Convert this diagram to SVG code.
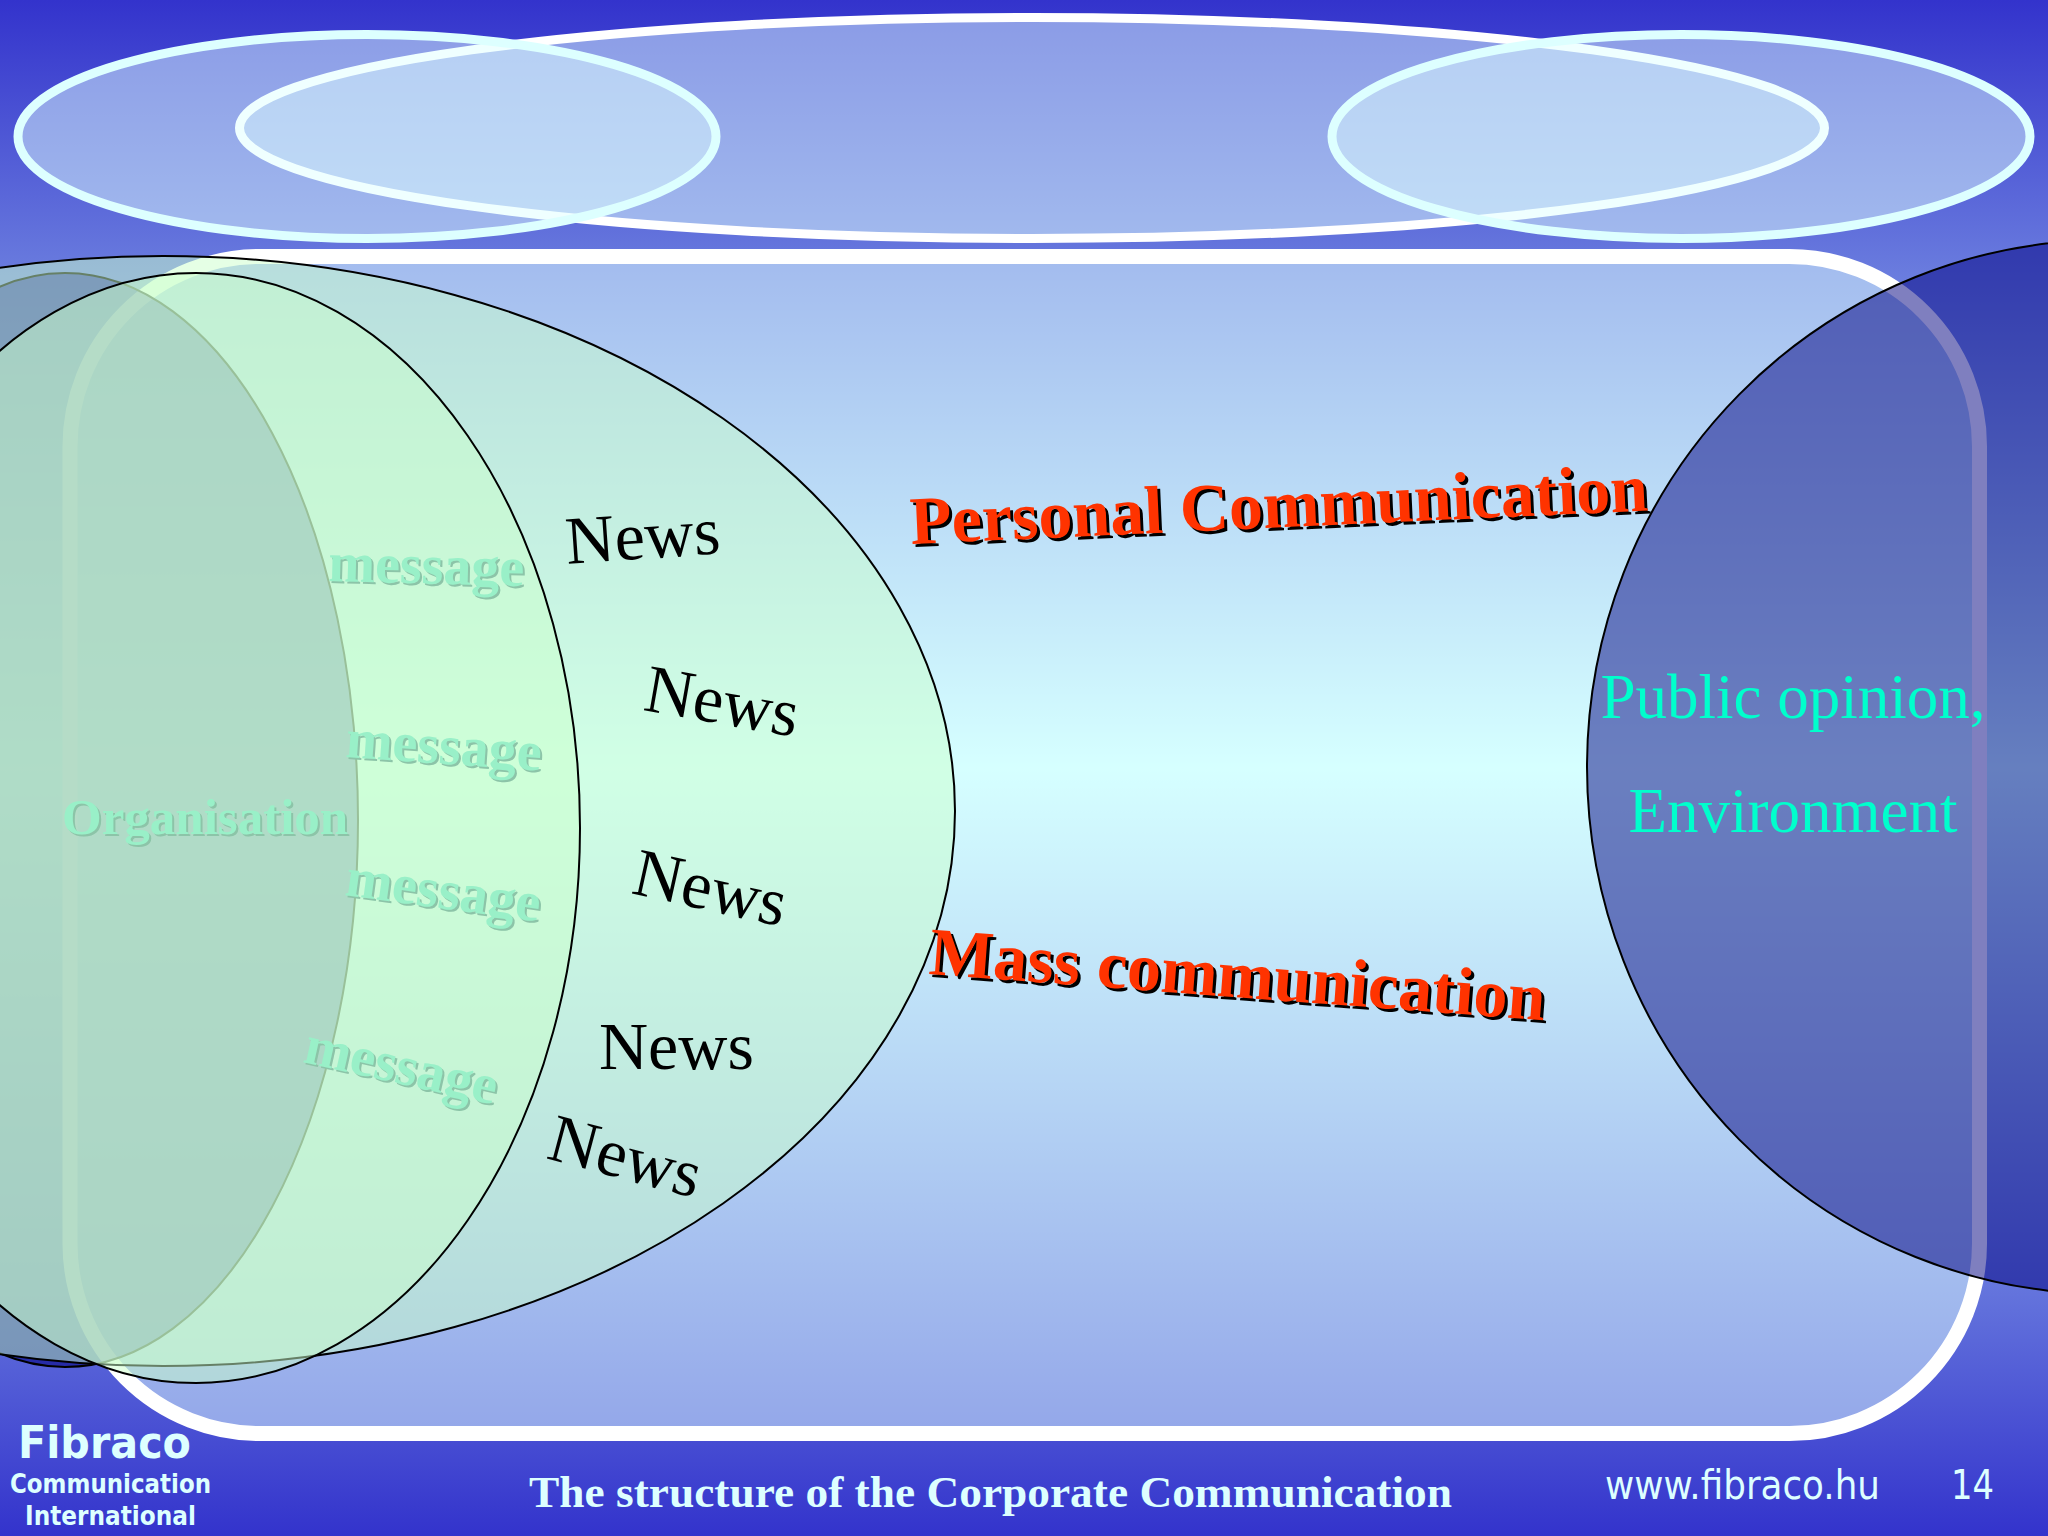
<svg xmlns="http://www.w3.org/2000/svg" width="2048" height="1536" viewBox="0 0 2048 1536">
<defs>
<linearGradient id="bg" x1="0" y1="0" x2="0" y2="1536" gradientUnits="userSpaceOnUse">
<stop offset="0" stop-color="#3333cc"/><stop offset="0.5" stop-color="#ccffff"/><stop offset="1" stop-color="#3333cc"/>
</linearGradient>
</defs>
<style>
.news{font-family:"Liberation Serif",serif;font-size:68px;fill:#000}
.msg{font-family:"Liberation Serif",serif;font-size:56px;font-weight:bold;fill:#99f0c8}
.msgs{font-family:"Liberation Serif",serif;font-size:56px;font-weight:bold;fill:#8cc4a8}
.red{font-family:"Liberation Serif",serif;font-size:68px;font-weight:bold;fill:#ff3300}
.redS{font-family:"Liberation Serif",serif;font-size:68px;font-weight:bold;fill:#000}
.pub{font-family:"Liberation Serif",serif;font-size:63px;fill:#00ffcc;text-anchor:middle}
.foot{fill:#ddffff}
.top{fill:#e0ffff;fill-opacity:.5;stroke:#ddffff;stroke-width:9}
.green{fill:#ccffcc;fill-opacity:.5;stroke:#000;stroke-width:2}
</style>
<rect width="2048" height="1536" fill="url(#bg)"/>
<g id="frame"><rect x="70" y="256.5" width="1909.5" height="1177" rx="190" ry="190" fill="#e0ffff" fill-opacity=".5" stroke="#fff" stroke-width="15"/></g>
<g id="top-ellipses">
<ellipse id="top-middle" cx="1032" cy="128" rx="792.5" ry="110.5" fill="#e0ffff" fill-opacity=".5" stroke="#fff" stroke-width="9"/>
<ellipse id="top-left" class="top" cx="367" cy="136.5" rx="349" ry="102"/>
<ellipse id="top-right" class="top" cx="1681" cy="136.5" rx="349" ry="102"/>
</g>
<g id="organisation"><ellipse cx="65" cy="820" rx="293" ry="547" fill="#000080" fill-opacity=".55" stroke="#000" stroke-width="2"/></g>
<g id="news-zone"><ellipse class="green" cx="163" cy="811" rx="792" ry="555"/></g>
<g id="message-zone"><ellipse class="green" cx="196" cy="828" rx="384" ry="555"/></g>
<g id="public"><ellipse cx="2107" cy="767" rx="520" ry="527" fill="#000080" fill-opacity=".5" stroke="#000" stroke-width="2"/>
<text class="pub" x="1793" y="718">Public opinion,</text><text class="pub" x="1793" y="832">Environment</text></g>
<g id="connectors"></g>
<g id="labels-news">
<text class="news" transform="translate(567 564) rotate(-4)">News</text>
<text class="news" transform="translate(642 710) rotate(10)">News</text>
<text class="news" transform="translate(630 893) rotate(12.5)">News</text>
<text class="news" x="599" y="1069">News</text>
<text class="news" transform="translate(545 1158) rotate(15)">News</text>
</g>
<g id="labels-message">
<text class="msgs" transform="translate(330 583) rotate(1.5)">message</text><text class="msg" transform="translate(328 581) rotate(1.5)">message</text>
<text class="msgs" transform="translate(347 759) rotate(4)">message</text><text class="msg" transform="translate(345 757) rotate(4)">message</text>
<text class="msgs" transform="translate(346 897) rotate(7.8)">message</text><text class="msg" transform="translate(344 895) rotate(7.8)">message</text>
<text class="msgs" transform="translate(304 1064) rotate(12.6)">message</text><text class="msg" transform="translate(302 1062) rotate(12.6)">message</text>
<text class="msgs" x="64" y="836" style="font-size:51px">Organisation</text><text class="msg" x="62" y="834" style="font-size:51px">Organisation</text>
</g>
<g id="labels-red">
<text class="redS" transform="translate(914 547) rotate(-2.6)">Personal Communication</text><text class="red" transform="translate(911 544) rotate(-2.6)">Personal Communication</text>
<text class="redS" transform="translate(931 977) rotate(4.3)">Mass communication</text><text class="red" transform="translate(928 974) rotate(4.3)">Mass communication</text>
</g>
<g id="footer">
<text class="foot" x="18" y="1458" font-family="'DejaVu Sans',sans-serif" font-weight="bold" font-size="44" textLength="173" lengthAdjust="spacingAndGlyphs">Fibraco</text>
<text class="foot" x="10" y="1493" font-family="'DejaVu Sans',sans-serif" font-weight="bold" font-size="26" textLength="201" lengthAdjust="spacingAndGlyphs">Communication</text>
<text class="foot" x="25" y="1525" font-family="'DejaVu Sans',sans-serif" font-weight="bold" font-size="26" textLength="171" lengthAdjust="spacingAndGlyphs">International</text>
<text class="foot" x="529" y="1507" font-family="'Liberation Serif',serif" font-weight="bold" font-size="44" textLength="923" lengthAdjust="spacingAndGlyphs">The structure of the Corporate Communication</text>
<text class="foot" x="1605" y="1499" font-family="'DejaVu Sans',sans-serif" font-size="40" textLength="275" lengthAdjust="spacingAndGlyphs">www.fibraco.hu</text>
<text class="foot" x="1951" y="1499" font-family="'DejaVu Sans',sans-serif" font-size="40" textLength="43" lengthAdjust="spacingAndGlyphs">14</text>
</g>
</svg>
